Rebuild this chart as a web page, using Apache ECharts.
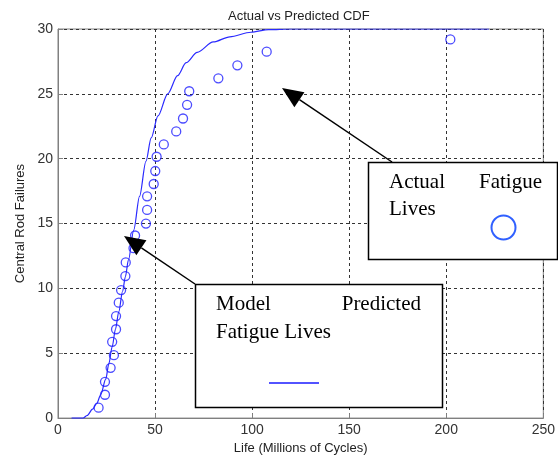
<!DOCTYPE html>
<html>
<head>
<meta charset="utf-8">
<script src="https://cdn.jsdelivr.net/npm/echarts@6/dist/echarts.min.js"></script>
<style>
  html, body { margin: 0; padding: 0; background: #fff; }
  #chart { width: 558px; height: 460px; }
</style>
</head>
<body>
<div id="chart"></div>
<script>
// model curve (predicted CDF)
var curveX = [7, 13, 15, 17.8, 20, 22, 24.6, 26.2, 27.9, 29.6, 31.3, 33.3, 34.7, 36.3, 39, 42, 45.3, 48, 51.5, 56.5, 61.6, 66, 71.7, 80, 88.5, 99.4, 108.5, 120, 150, 222];
var curveY = [0, 0, 0.2, 0.69, 1.15, 1.8, 3.0, 4.2, 5.5, 6.85, 8.2, 9.8, 10.9, 12.2, 14.5, 17.1, 19.8, 21.6, 23.3, 25.0, 26.4, 27.4, 28.2, 29.0, 29.4, 29.75, 29.95, 30, 30, 30];

// actual fatigue lives
var lifeX = [20.9, 24.2, 24.2, 27.1, 28.8, 27.9, 29.9, 29.9, 31.3, 32.5, 34.7, 34.9, 38.9, 39.7, 45.3, 45.9, 45.9, 49.3, 50.1, 50.8, 54.5, 60.9, 64.4, 66.5, 67.6, 82.6, 92.4, 107.5, 202.1];
var failY = [0.8, 1.8, 2.8, 3.88, 4.85, 5.88, 6.85, 7.87, 8.9, 9.87, 10.95, 12.0, 13.1, 14.08, 15.0, 16.05, 17.1, 18.05, 19.05, 20.15, 21.1, 22.1, 23.1, 24.15, 25.2, 26.2, 27.2, 28.25, 29.2];

var xTicks = [0, 50, 100, 150, 200, 250];
var yTicks = [0, 5, 10, 15, 20, 25, 30];

var curveData = [];
for (var i = 0; i < curveX.length; i++) {
    curveData.push([curveX[i], curveY[i]]);
}
var pointData = [];
for (var j = 0; j < lifeX.length; j++) {
    pointData.push([lifeX[j], failY[j]]);
}

var sans = '"Liberation Sans", Arial, sans-serif';
var serif = '"Liberation Serif", "Times New Roman", serif';

// arrow = line + filled head
function arrow(tail, tip) {
    var dx = tail[0] - tip[0], dy = tail[1] - tip[1];
    var len = Math.sqrt(dx * dx + dy * dy);
    var ux = dx / len, uy = dy / len;
    var hl = 21, hw = 9;
    var bx = tip[0] + ux * hl, by = tip[1] + uy * hl;
    return [
        {
            type: 'line', z: 100,
            shape: { x1: tail[0], y1: tail[1], x2: bx, y2: by },
            style: { stroke: '#000', lineWidth: 1.5 }
        },
        {
            type: 'polygon', z: 100,
            shape: { points: [tip, [bx - uy * hw, by + ux * hw], [bx + uy * hw, by - ux * hw]] },
            style: { fill: '#000' }
        }
    ];
}

var myChart = echarts.init(document.getElementById('chart'));
var option = {
    animation: false,
    backgroundColor: '#fff',
    title: {
        text: 'Actual vs Predicted CDF',
        left: 223,
        top: 5,
        textStyle: { fontFamily: sans, fontSize: 13, fontWeight: 'normal', color: '#222' }
    },
    grid: {
        left: 58, right: 5, top: 29, bottom: 41,
        show: true, borderColor: '#808080', borderWidth: 1
    },
    xAxis: {
        type: 'value',
        min: xTicks[0], max: xTicks[xTicks.length - 1], interval: 50,
        name: 'Life (Millions of Cycles)',
        nameLocation: 'middle',
        nameGap: 18,
        nameTextStyle: { fontFamily: sans, fontSize: 13, color: '#222' },
        axisLine: { lineStyle: { color: '#808080' } },
        axisTick: { inside: true, length: 5, lineStyle: { color: '#808080' } },
        axisLabel: { margin: 5, fontFamily: sans, fontSize: 14, color: '#333', showMaxLabel: true },
        splitLine: { show: true, lineStyle: { color: '#333', type: [3, 3], width: 1 } }
    },
    yAxis: {
        type: 'value',
        min: yTicks[0], max: yTicks[yTicks.length - 1], interval: 5,
        name: 'Central Rod Failures',
        nameLocation: 'middle',
        nameGap: 30,
        nameTextStyle: { fontFamily: sans, fontSize: 13, color: '#222' },
        axisLine: { lineStyle: { color: '#808080' } },
        axisTick: { inside: true, length: 5, lineStyle: { color: '#808080' } },
        axisLabel: { margin: 5, fontFamily: sans, fontSize: 14, color: '#333' },
        splitLine: { show: true, lineStyle: { color: '#333', type: [3, 3], width: 1 } }
    },
    series: [
        {
            name: 'Model Predicted Fatigue Lives',
            type: 'line',
            data: curveData,
            smooth: 0.3,
            smoothMonotone: 'x',
            showSymbol: false,
            lineStyle: { color: '#2a2aff', width: 1.2 },
            z: 3
        },
        {
            name: 'Actual Fatigue Lives',
            type: 'scatter',
            data: pointData,
            symbol: 'circle',
            symbolSize: 9,
            itemStyle: { color: 'rgba(0,0,0,0)', borderColor: '#1f1fff', borderWidth: 1.3 },
            z: 4
        }
    ],
    graphic: [
        // box: Actual Fatigue Lives
        {
            type: 'rect', z: 90,
            shape: { x: 368.5, y: 162.5, width: 189, height: 97 },
            style: { fill: '#fff', stroke: '#000', lineWidth: 1.5 }
        },
        {
            type: 'text', z: 95, left: 389, top: 172,
            style: { text: 'Actual', font: '21px ' + serif, fill: '#000' }
        },
        {
            type: 'text', z: 95, left: 479, top: 172,
            style: { text: 'Fatigue', font: '21px ' + serif, fill: '#000' }
        },
        {
            type: 'text', z: 95, left: 389, top: 199,
            style: { text: 'Lives', font: '21px ' + serif, fill: '#000' }
        },
        {
            type: 'circle', z: 95,
            shape: { cx: 503.5, cy: 227.5, r: 12 },
            style: { fill: 'none', stroke: '#3060ff', lineWidth: 2 }
        },
        // box: Model Predicted Fatigue Lives
        {
            type: 'rect', z: 90,
            shape: { x: 195.5, y: 284.5, width: 247, height: 123 },
            style: { fill: '#fff', stroke: '#000', lineWidth: 1.5 }
        },
        {
            type: 'text', z: 95, left: 216, top: 294,
            style: { text: 'Model', font: '21px ' + serif, fill: '#000' }
        },
        {
            type: 'text', z: 95, right: 558 - 421, top: 294,
            style: { text: 'Predicted', font: '21px ' + serif, fill: '#000' }
        },
        {
            type: 'text', z: 95, left: 216, top: 322,
            style: { text: 'Fatigue Lives', font: '21px ' + serif, fill: '#000' }
        },
        {
            type: 'line', z: 95,
            shape: { x1: 269, y1: 383, x2: 319, y2: 383 },
            style: { stroke: '#1a1aff', lineWidth: 1.5 }
        }
    ].concat(arrow([392, 162], [282, 88])).concat(arrow([195, 284], [124, 236]))
};
myChart.setOption(option);
</script>
</body>
</html>
